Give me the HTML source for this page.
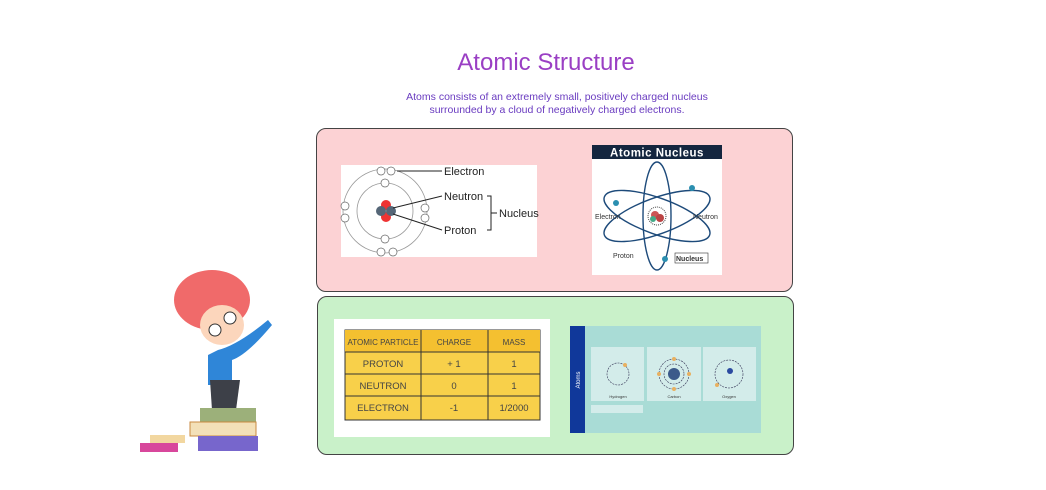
<!DOCTYPE html>
<html><head><meta charset="utf-8"><style>
body{margin:0;width:1046px;height:490px;background:#fff;position:relative;overflow:hidden;font-family:"Liberation Sans",sans-serif}
.a{position:absolute}
</style></head><body>
<div class="a" style="left:0;width:1092px;top:49px;text-align:center;font-size:24px;color:#9a3fc4">Atomic Structure</div>
<div class="a" style="left:0;width:1114px;top:91px;text-align:center;font-size:10.5px;line-height:13px;color:#6a3cc0">Atoms consists of an extremely small, positively charged nucleus<br>surrounded by a cloud of negatively charged electrons.</div>
<div class="a" style="left:316px;top:128px;width:475px;height:162px;border:1.5px solid #444;border-radius:10px;background:#fcd2d4"></div>
<div class="a" style="left:317px;top:296px;width:475px;height:157px;border:1.5px solid #444;border-radius:10px;background:#c9f1c9"></div>
<svg class="a" style="left:0;top:0" width="1046" height="490" font-family="Liberation Sans, sans-serif">
<rect x="341" y="165" width="196" height="92" fill="#fff"/>
<g fill="none" stroke="#999" stroke-width="0.8"><circle cx="385" cy="211" r="42"/><circle cx="385" cy="211" r="28"/></g>
<circle cx="386" cy="205" r="5" fill="#e33"/><circle cx="386" cy="217" r="5" fill="#e33"/><circle cx="381" cy="211" r="5" fill="#567"/><circle cx="391" cy="211" r="5" fill="#567"/>
<g fill="#fff" stroke="#666" stroke-width="0.7"><circle cx="381" cy="171" r="4"/><circle cx="391" cy="171" r="4"/><circle cx="385" cy="183" r="4"/><circle cx="345" cy="206" r="4"/><circle cx="345" cy="218" r="4"/><circle cx="425" cy="208" r="4"/><circle cx="425" cy="218" r="4"/><circle cx="385" cy="239" r="4"/><circle cx="381" cy="252" r="4"/><circle cx="393" cy="252" r="4"/></g>
<g stroke="#222" stroke-width="1"><line x1="397" y1="171" x2="442" y2="171"/><line x1="393" y1="208" x2="442" y2="196"/><line x1="393" y1="214" x2="442" y2="230"/><path d="M487 196h4v34h-4M491 213h6" fill="none"/></g>
<g font-size="11" fill="#222"><text x="444" y="175">Electron</text><text x="444" y="200">Neutron</text><text x="444" y="234">Proton</text><text x="499" y="217">Nucleus</text></g>
<rect x="592" y="145" width="130" height="130" fill="#fff"/>
<rect x="592" y="145" width="130" height="14" fill="#14263f"/>
<text x="657" y="156.5" text-anchor="middle" font-size="11.5" font-weight="bold" fill="#fff" letter-spacing="0.5">Atomic Nucleus</text>
<g fill="none" stroke="#1d4a7a" stroke-width="1.4"><ellipse cx="657" cy="216" rx="14" ry="54"/><ellipse cx="657" cy="216" rx="56" ry="18" transform="rotate(20 657 216)"/><ellipse cx="657" cy="216" rx="56" ry="18" transform="rotate(-20 657 216)"/></g>
<circle cx="657" cy="216" r="9" fill="#fff" stroke="#444" stroke-dasharray="1 1"/><circle cx="655" cy="215" r="4" fill="#c55"/><circle cx="660" cy="218" r="4" fill="#b44"/><circle cx="653" cy="219" r="3" fill="#4a8"/>
<g fill="#2b8fb0"><circle cx="616" cy="203" r="3"/><circle cx="692" cy="188" r="3"/><circle cx="665" cy="259" r="3"/></g>
<g font-size="7" fill="#333"><text x="595" y="219">Electron</text><text x="693" y="219">Neutron</text><text x="613" y="258">Proton</text><text x="676" y="261" font-weight="bold">Nucleus</text></g>
<rect x="675" y="253" width="33" height="10" fill="none" stroke="#333" stroke-width="0.6"/>
<rect x="334" y="319" width="216" height="118" fill="#fff"/>
<rect x="345" y="330" width="195" height="90" fill="#f8d04a" stroke="#333" stroke-width="1"/>
<rect x="345" y="330" width="195" height="22" fill="#f4c030"/>
<g stroke="#333" stroke-width="1"><line x1="345" y1="352" x2="540" y2="352"/><line x1="345" y1="374" x2="540" y2="374"/><line x1="345" y1="396" x2="540" y2="396"/><line x1="421" y1="330" x2="421" y2="420"/><line x1="488" y1="330" x2="488" y2="420"/></g>
<g font-size="9.5" fill="#444" text-anchor="middle"><text x="383" y="345" font-size="8">ATOMIC PARTICLE</text><text x="454" y="345" font-size="8">CHARGE</text><text x="514" y="345" font-size="8">MASS</text>
<text x="383" y="367">PROTON</text><text x="454" y="367">+ 1</text><text x="514" y="367">1</text>
<text x="383" y="389">NEUTRON</text><text x="454" y="389">0</text><text x="514" y="389">1</text>
<text x="383" y="411">ELECTRON</text><text x="454" y="411">-1</text><text x="514" y="411">1/2000</text></g>
<rect x="570" y="326" width="191" height="107" fill="#a9dcd6"/>
<rect x="570" y="326" width="15" height="107" fill="#10389a"/>
<text x="580" y="380" font-size="6" fill="#fff" transform="rotate(-90 580 380)" text-anchor="middle">Atoms</text>
<g fill="#d3ecea"><rect x="591" y="347" width="53" height="54"/><rect x="647" y="347" width="54" height="54"/><rect x="703" y="347" width="53" height="54"/><rect x="591" y="405" width="52" height="8"/></g>
<g fill="none" stroke="#335" stroke-width="0.6" stroke-dasharray="2 1"><circle cx="618" cy="374" r="11"/><circle cx="674" cy="374" r="15"/><circle cx="674" cy="374" r="10"/><circle cx="729" cy="374" r="14"/></g>
<circle cx="674" cy="374" r="6" fill="#3c5a8a"/><circle cx="730" cy="371" r="3" fill="#2a4aa0"/>
<g fill="#e8b060"><circle cx="625" cy="365" r="2"/><circle cx="674" cy="359" r="2"/><circle cx="689" cy="374" r="2"/><circle cx="659" cy="374" r="2"/><circle cx="674" cy="389" r="2"/><circle cx="717" cy="385" r="2"/></g>
<g font-size="4" fill="#333" text-anchor="middle"><text x="618" y="398">Hydrogen</text><text x="674" y="398">Carbon</text><text x="729" y="398">Oxygen</text></g>
<ellipse cx="212" cy="300" rx="38" ry="30" fill="#f06a6a"/>
<ellipse cx="222" cy="325" rx="22" ry="20" fill="#fcd6bc"/>
<circle cx="230" cy="318" r="6" fill="#fff" stroke="#333"/><circle cx="215" cy="330" r="6" fill="#fff" stroke="#333"/>
<path d="M218 350q20 -5 50 -30l4 5q-25 30 -40 35v25h-24v-30z" fill="#2f86d8"/>
<path d="M210 380h30l-4 30h-24z" fill="#3d4048"/>
<rect x="200" y="408" width="56" height="14" fill="#9cb07a"/>
<rect x="190" y="422" width="66" height="14" fill="#f3e0b8" stroke="#c88a40"/>
<rect x="198" y="436" width="60" height="15" fill="#7766cc"/>
<rect x="150" y="435" width="35" height="8" fill="#f2d7a0"/>
<rect x="140" y="443" width="38" height="9" fill="#d8479c"/>
</svg>
</body></html>
